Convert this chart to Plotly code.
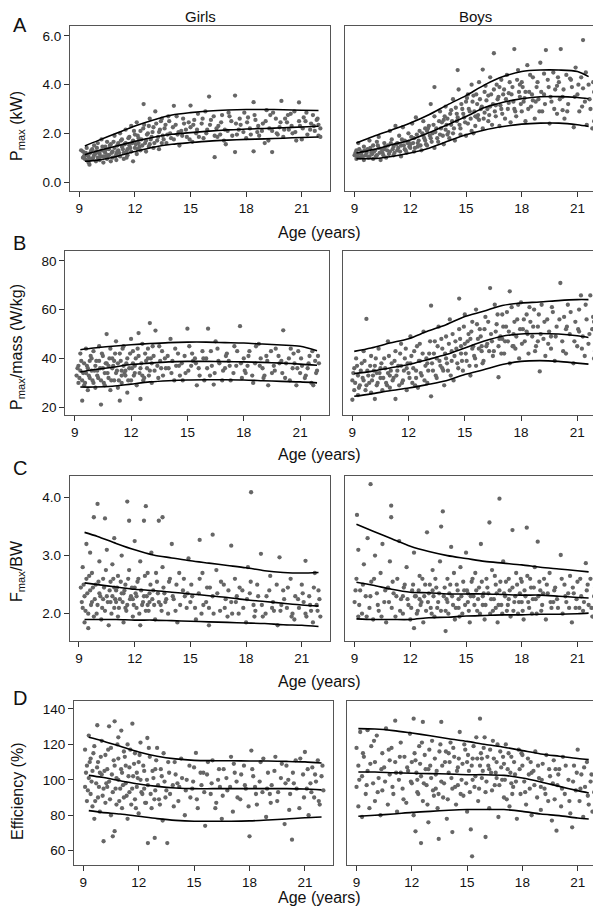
import plotly.graph_objects as go

# ---------------- data ----------------
x_ticks = [9, 12, 15, 18, 21]
girls_curve_age = [9.3, 10, 11, 12, 13, 14, 15, 16, 17, 18, 19, 20, 21, 21.9]
boys_curve_age = [9.1, 10, 11, 12, 13, 14, 15, 16, 17, 18, 19, 20, 21, 21.6]

# Pmax (kW)
girls_pmax_hi = [1.48, 1.7, 2.0, 2.3, 2.55, 2.75, 2.85, 2.92, 2.96, 2.98, 2.98, 2.97, 2.95, 2.94]
girls_pmax_md = [1.12, 1.28, 1.48, 1.67, 1.84, 1.96, 2.03, 2.09, 2.14, 2.18, 2.2, 2.23, 2.26, 2.29]
girls_pmax_lo = [0.85, 0.9, 1.05, 1.25, 1.43, 1.55, 1.62, 1.68, 1.72, 1.75, 1.77, 1.8, 1.83, 1.85]
boys_pmax_hi = [1.6, 1.87, 2.14, 2.42, 2.76, 3.17, 3.55, 3.99, 4.33, 4.54, 4.6, 4.6, 4.54, 4.33]
boys_pmax_md = [1.19, 1.33, 1.53, 1.73, 2.02, 2.35, 2.69, 3.06, 3.28, 3.42, 3.5, 3.51, 3.47, 3.42]
boys_pmax_lo = [0.96, 0.96, 1.05, 1.19, 1.39, 1.67, 1.94, 2.14, 2.28, 2.38, 2.42, 2.42, 2.35, 2.28]

# Pmax/mass (W/kg)
girls_pm_hi = [43.6, 44.3, 45.0, 45.6, 46.1, 46.5, 46.7, 46.7, 46.5, 46.3, 45.9, 45.5, 45.0, 43.2]
girls_pm_md = [34.5, 35.4, 36.4, 37.5, 38.1, 38.6, 38.8, 38.8, 38.7, 38.6, 38.4, 38.1, 37.7, 37.2]
girls_pm_lo = [28.3, 28.3, 28.6, 29.5, 30.4, 30.9, 31.2, 31.3, 31.3, 31.2, 30.9, 30.6, 30.4, 30.0]
boys_pm_hi = [42.9, 44.3, 46.3, 48.1, 51.1, 53.8, 57.2, 59.3, 61.7, 62.7, 63.1, 63.7, 64.1, 64.1]
boys_pm_md = [33.8, 34.7, 36.1, 37.5, 39.5, 41.6, 44.3, 47.0, 49.1, 50.0, 50.2, 50.0, 49.3, 48.6]
boys_pm_lo = [24.5, 25.5, 26.8, 27.9, 29.3, 30.9, 33.4, 35.4, 37.5, 38.8, 39.1, 38.8, 38.1, 37.7]

# Fmax/BW
girls_f_hi = [3.4, 3.33, 3.21, 3.1, 3.01, 2.96, 2.91, 2.87, 2.83, 2.79, 2.74, 2.71, 2.7, 2.71]
girls_f_md = [2.53, 2.5, 2.46, 2.42, 2.4, 2.37, 2.34, 2.31, 2.28, 2.24, 2.21, 2.18, 2.15, 2.13]
girls_f_lo = [1.9, 1.9, 1.9, 1.89, 1.89, 1.88, 1.87, 1.86, 1.85, 1.84, 1.83, 1.81, 1.8, 1.78]
boys_f_hi = [3.54, 3.42, 3.29, 3.16, 3.07, 3.0, 2.95, 2.9, 2.87, 2.84, 2.8, 2.77, 2.74, 2.72]
boys_f_md = [2.54, 2.49, 2.42, 2.37, 2.36, 2.34, 2.34, 2.34, 2.33, 2.32, 2.32, 2.3, 2.28, 2.27]
boys_f_lo = [1.91, 1.9, 1.9, 1.9, 1.93, 1.94, 1.96, 1.97, 1.98, 1.98, 1.99, 1.99, 2.0, 2.01]

# Efficiency (%)
girls_e_hi = [124.0, 122.1, 118.9, 115.7, 113.3, 111.8, 111.0, 110.8, 110.8, 110.6, 110.6, 110.4, 110.1, 109.5]
girls_e_md = [102.5, 101.4, 99.5, 97.6, 96.3, 95.4, 95.0, 95.0, 95.0, 95.0, 95.0, 95.0, 94.8, 94.3]
girls_e_lo = [82.6, 81.6, 80.7, 79.4, 78.1, 77.1, 76.6, 76.6, 76.6, 76.8, 77.3, 77.9, 78.6, 79.0]
boys_e_hi = [128.9, 128.7, 127.8, 126.4, 124.9, 123.2, 121.7, 119.9, 118.4, 116.5, 114.6, 113.3, 112.0, 111.4]
boys_e_md = [104.4, 104.4, 104.0, 103.7, 103.5, 103.3, 102.9, 102.9, 102.5, 101.0, 98.8, 96.3, 93.9, 92.6]
boys_e_lo = [79.4, 80.0, 80.7, 81.6, 82.2, 82.8, 83.2, 83.2, 83.2, 82.2, 80.7, 79.8, 78.4, 77.9]

# individual observations (age, value)
girls_pmax_pts = [
 (9.1,1.3),(9.2,1.0),(9.2,1.25),(9.3,0.95),(9.3,1.15),(9.4,0.9),(9.4,1.4),(9.5,1.05),(9.5,0.8),(9.6,1.2),
 (9.55,0.71),(9.7,1.35),(9.7,0.95),(9.8,1.1),(9.8,1.5),(9.9,0.85),(9.9,1.25),(10.0,1.0),(10.0,1.6),(10.1,1.15),
 (10.1,0.9),(10.2,1.3),(10.2,1.75),(10.3,1.05),(10.3,0.8),(10.4,1.45),(10.4,1.2),(10.5,0.95),(10.5,1.65),(10.6,1.1),
 (10.6,1.35),(10.7,0.85),(10.7,1.55),(10.8,1.25),(10.8,1.0),(10.9,1.9),(10.9,1.4),(11.0,1.15),(11.0,0.9),(11.1,1.6),
 (11.1,1.3),(11.2,2.0),(11.2,1.05),(11.3,1.45),(11.3,1.75),(11.4,1.2),(11.4,0.95),(11.5,1.6),(11.5,2.15),(11.6,1.35),
 (11.6,1.1),(11.7,1.85),(11.7,1.5),(11.8,1.25),(11.8,2.3),(11.9,1.7),(11.9,0.85),(12.0,1.4),(12.0,1.95),(12.1,1.15),
 (12.1,2.45),(12.2,1.6),(12.2,1.8),(12.3,1.3),(12.3,2.1),(12.4,1.5),(12.47,3.2),(12.5,2.35),(12.6,1.7),(12.6,1.25),
 (12.7,2.0),(12.8,1.55),(12.8,2.6),(12.9,1.85),(13.0,1.4),(13.0,2.25),(13.1,2.9),(13.2,1.7),(13.3,2.05),(13.3,1.35),
 (13.4,2.5),(13.5,1.9),(13.6,2.2),(13.7,1.6),(13.8,2.7),(13.9,2.0),(14.1,3.13),(14.1,1.75),(14.2,2.35),(14.4,1.5),
 (14.5,2.1),(14.6,2.6),(14.8,1.85),(15.0,3.14),(15.0,2.25),(15.1,1.65),(15.3,2.0),(15.4,2.8),(15.6,2.4),(15.7,1.8),
 (15.9,2.15),(16.0,3.51),(16.1,2.55),(16.3,1.02),(16.3,1.9),(16.5,2.3),(16.7,2.75),(16.8,1.7),(17.0,2.1),(17.2,2.5),
 (17.4,3.55),(17.4,1.23),(17.5,1.95),(17.7,2.35),(17.9,2.85),(18.0,1.8),(18.2,2.2),(18.4,3.28),(18.4,1.26),(18.5,2.55),
 (18.7,1.9),(18.9,2.4),(19.1,2.95),(19.2,1.7),(19.4,1.23),(19.4,2.1),(19.6,2.6),(19.8,2.25),(19.9,3.33),(20.0,1.85),
 (20.2,2.45),(20.4,2.8),(20.5,2.0),(20.7,1.7),(20.85,3.27),(20.9,2.3),(21.1,2.65),(21.3,1.95),(21.5,2.4),(21.7,2.1),
 (21.8,2.55),(21.9,1.9),(22.0,2.2),(15.2,2.55),(15.8,2.9),(16.4,2.2),(16.9,1.55),(17.1,2.7),(17.6,2.15),(18.1,2.65),
 (18.6,2.05),(19.0,1.6),(19.3,2.75),(19.7,1.95),(20.1,2.6),(20.3,2.15),(20.6,2.9),(21.0,1.75),(21.2,2.5),(21.6,2.75),
 (21.9,2.35),(10.45,1.05),(11.05,1.25),(11.55,1.0),(12.15,1.35),(12.75,1.45),(13.45,1.6),(14.3,1.95),(14.9,2.45),(16.6,1.95)]
girls_pmax_pts_more = [
 (9.25,1.05),(9.35,1.2),(9.45,1.1),(9.55,0.95),(9.65,1.3),(9.75,1.0),(9.85,1.15),(9.95,1.4),(10.05,1.2),(10.15,1.05),
 (10.25,1.45),(10.35,1.25),(10.45,1.35),(10.55,1.1),(10.65,1.5),(10.75,1.2),(10.85,1.65),(10.95,1.05),(11.05,1.5),(11.15,1.2),
 (11.25,1.7),(11.35,1.35),(11.45,1.55),(11.55,1.25),(11.65,1.8),(11.75,1.4),(11.85,1.6),(11.95,2.1),(12.05,1.55),(12.15,1.9),
 (12.25,1.45),(12.35,1.75),(12.45,2.2),(12.55,1.6),(12.65,1.95),(12.75,2.3),(12.85,1.75),(12.95,2.05),(13.05,1.6),(13.15,2.4),
 (13.25,1.85),(13.35,2.15),(13.45,2.6),(13.55,1.75),(13.65,2.35),(13.75,1.95),(13.85,2.5),(13.95,1.8),(14.05,2.25),(14.25,2.7),
 (14.35,2.05),(14.55,1.9),(14.65,2.4),(14.75,2.15),(14.95,1.75),(15.15,2.35),(15.35,2.15),(15.45,1.85),(15.65,2.6),(15.85,2.0),
 (16.05,2.35),(16.25,2.7),(16.45,1.85),(16.65,2.45),(16.85,2.15),(17.05,2.85),(17.25,1.9),(17.45,2.4),(17.65,2.6),(17.85,2.05),
 (18.05,2.45),(18.25,1.95),(18.45,2.75),(18.65,2.3),(18.85,2.1),(19.05,2.5),(19.25,2.2),(19.45,2.85),(19.65,2.0),(19.85,2.45),
 (20.05,2.15),(20.25,2.75),(20.45,2.3),(20.65,2.05),(20.85,2.5),(21.05,2.2),(21.25,2.85),(21.45,2.15),(21.65,2.3),(21.85,2.6),
 (22.0,1.85)]

boys_pmax_pts = [
 (9.0,1.1),(9.1,1.3),(9.1,0.95),(9.2,1.6),(9.2,1.15),(9.3,1.0),(9.4,1.25),(9.5,1.45),(9.5,0.9),(9.6,1.1),
 (9.7,1.35),(9.8,1.05),(9.8,1.7),(9.9,1.2),(10.0,0.95),(10.0,1.5),(10.1,1.3),(10.2,1.1),(10.3,1.85),(10.3,1.4),
 (10.4,0.9),(10.5,1.2),(10.6,1.6),(10.6,1.35),(10.7,1.0),(10.8,1.5),(10.9,2.1),(10.9,1.25),(11.0,1.75),(11.1,1.1),
 (11.1,1.45),(11.2,2.3),(11.3,1.6),(11.3,1.3),(11.4,1.9),(11.5,1.05),(11.5,1.5),(11.6,2.25),(11.7,1.7),(11.7,1.35),
 (11.8,1.2),(11.9,2.0),(12.0,1.55),(12.0,1.4),(12.1,2.4),(12.2,1.25),(12.2,1.8),(12.3,2.65),(12.4,1.6),(12.4,1.45),
 (12.5,2.1),(12.6,1.3),(12.7,1.9),(12.7,2.5),(12.8,1.7),(12.9,1.5),(13.0,2.3),(13.1,3.2),(13.1,1.8),(13.2,2.0),
 (13.3,1.4),(13.3,2.7),(13.4,2.2),(13.5,1.65),(13.6,2.9),(13.6,1.95),(13.7,2.45),(13.8,1.55),(13.9,3.1),(13.9,2.15),
 (14.0,2.6),(14.1,1.8),(14.2,2.35),(14.3,3.4),(14.3,2.0),(14.4,1.7),(14.5,2.8),(14.5,2.5),(14.6,3.8),(14.7,2.2),
 (14.7,1.95),(14.8,3.0),(14.9,2.65),(15.0,1.9),(15.0,3.3),(15.1,2.4),(15.2,2.9),(15.3,4.0),(15.3,2.1),(15.4,3.55),
 (15.5,2.7),(15.5,2.3),(15.6,3.2),(15.7,4.1),(15.7,2.55),(15.8,3.0),(15.9,2.2),(16.0,3.7),(16.0,2.85),(16.1,3.35),
 (16.2,2.5),(16.3,4.3),(16.3,3.1),(16.4,2.35),(16.5,5.29),(16.5,3.8),(16.6,2.7),(16.7,3.4),(16.8,2.3),(16.9,4.2),
 (16.9,3.0),(17.0,3.6),(17.1,2.6),(17.2,4.4),(17.3,3.25),(17.4,2.45),(17.5,3.9),(17.6,5.46),(17.6,3.0),(17.7,2.7),
 (17.8,4.6),(17.9,3.5),(18.0,4.1),(18.0,2.9),(18.1,3.3),(18.2,2.5),(18.3,4.8),(18.4,3.7),(18.5,3.1),(18.6,4.3),
 (18.7,2.6),(18.8,3.9),(18.9,3.4),(19.0,4.9),(19.1,2.9),(19.2,3.6),(19.3,5.42),(19.4,4.2),(19.5,2.4),(19.6,3.3),
 (19.7,4.5),(19.8,3.8),(19.9,2.8),(20.0,4.1),(20.1,5.46),(20.2,3.5),(20.3,2.6),(20.4,4.4),(20.5,3.2),(20.7,3.9),
 (20.8,2.25),(20.9,4.7),(21.0,3.6),(21.1,2.9),(21.2,4.3),(21.3,5.83),(21.4,3.3),(21.5,2.35),(21.6,4.0),(21.7,3.0),
 (21.8,2.2),(21.9,3.7),(22.0,3.2),(14.55,4.6),(15.9,4.62),(13.3,3.9),(22.0,3.4),(21.9,2.5),(12.9,2.1),(13.8,2.55),
 (14.2,2.95),(15.1,3.6),(15.6,2.65),(16.2,3.55),(16.8,3.9),(17.3,3.65),(17.9,4.0),(18.6,3.35),(19.2,4.45),(19.9,3.95),
 (20.6,4.25),(21.3,3.85),(10.2,1.65),(11.9,1.65),(12.8,2.2),(14.0,1.95),(15.4,2.0),(16.6,3.15),(18.2,3.7),(20.2,2.95)]
boys_pmax_pts_more = [
 (9.05,1.2),(9.15,1.05),(9.25,1.35),(9.35,1.15),(9.45,1.05),(9.55,1.3),(9.65,1.2),(9.75,1.0),(9.85,1.4),(9.95,1.15),
 (10.05,1.25),(10.15,1.05),(10.25,1.5),(10.35,1.2),(10.45,1.35),(10.55,1.1),(10.65,1.45),(10.75,1.3),(10.85,1.15),(10.95,1.6),
 (11.05,1.35),(11.15,1.2),(11.25,1.55),(11.35,1.4),(11.45,1.25),(11.55,1.75),(11.65,1.5),(11.75,1.3),(11.85,1.6),(11.95,1.45),
 (12.05,1.85),(12.15,1.6),(12.25,1.4),(12.35,1.95),(12.45,1.7),(12.55,1.5),(12.65,2.0),(12.75,1.8),(12.85,1.55),(12.95,2.2),
 (13.05,1.9),(13.15,1.65),(13.25,2.35),(13.35,2.05),(13.45,1.8),(13.55,2.5),(13.65,2.2),(13.75,1.9),(13.85,2.7),(13.95,2.35),
 (14.05,2.05),(14.15,2.8),(14.25,2.5),(14.35,2.2),(14.45,3.05),(14.55,2.65),(14.65,2.35),(14.75,3.2),(14.85,2.8),(14.95,2.45),
 (15.05,3.45),(15.15,3.0),(15.25,2.6),(15.35,3.3),(15.45,2.9),(15.55,3.6),(15.65,2.75),(15.75,3.4),(15.85,3.1),(15.95,2.6),
 (16.05,3.95),(16.15,3.0),(16.25,2.75),(16.35,3.6),(16.45,3.2),(16.55,2.9),(16.65,4.0),(16.75,3.5),(16.85,3.15),(16.95,2.8),
 (17.05,3.8),(17.15,3.4),(17.25,3.0),(17.35,4.1),(17.45,3.6),(17.55,3.3),(17.65,2.9),(17.75,4.2),(17.85,3.7),(17.95,3.2),
 (18.05,3.9),(18.15,3.45),(18.35,3.0),(18.45,4.4),(18.55,3.6),(18.75,3.3),(18.85,4.1),(18.95,2.9),(19.05,3.7),(19.25,3.2),
 (19.45,3.9),(19.55,3.5),(19.75,3.0),(19.95,4.3),(20.05,3.4),(20.25,3.8),(20.45,2.9),(20.65,4.2),(20.85,3.5),(21.05,4.0),
 (21.25,3.1),(21.45,4.5),(21.65,3.4),(21.85,4.1),(21.95,2.8)]

girls_pm_pts = [
 (9.1,33),(9.2,30),(9.2,37),(9.3,42),(9.3,35),(9.4,22.7),(9.4,31),(9.5,38),(9.5,29),(9.6,34),
 (9.6,44),(9.7,36),(9.7,27),(9.8,32),(9.9,40),(9.9,35),(10.0,30),(10.0,43),(10.1,37),(10.1,28),
 (10.2,33),(10.3,39),(10.3,45),(10.4,21.1),(10.4,31),(10.5,36),(10.5,41),(10.6,29),(10.6,34),(10.7,50),
 (10.7,38),(10.8,32),(10.9,44),(10.9,27),(11.0,36),(11.0,40),(11.1,31),(11.2,47),(11.2,34),(11.3,28),
 (11.3,38),(11.4,22.7),(11.4,42),(11.5,35),(11.5,30),(11.6,45),(11.6,37),(11.7,33),(11.8,40),(11.8,26),
 (11.9,36),(12.0,48),(12.0,31),(12.1,43),(12.1,38),(12.2,34),(12.3,29),(12.4,50.4),(12.4,41),(12.5,23.4),
 (12.5,36),(12.6,46),(12.7,32),(12.8,39),(12.9,44),(13.0,54.5),(13.0,35),(13.1,30),(13.2,41),(13.3,51.4),
 (13.4,37),(13.5,45),(13.7,33),(13.8,40),(14.0,36),(14.1,48),(14.3,31),(14.5,42),(14.7,38),(14.9,34),
 (15.0,52.2),(15.1,45),(15.3,39),(15.5,29),(15.6,36),(15.8,43),(16.0,40),(16.1,52.2),(16.2,33),(16.4,29.3),
 (16.5,47),(16.7,38),(16.9,35),(17.1,42),(17.3,31),(17.5,45),(17.6,37),(17.8,53.2),(18.0,40),(18.1,34),
 (18.3,43),(18.5,30),(18.6,38),(18.8,46),(19.0,36),(19.2,41),(19.3,29),(19.5,34),(19.7,44),(19.9,38),
 (20.1,51.5),(20.2,32),(20.4,40),(20.6,36),(20.8,29),(20.9,43),(21.1,37),(21.3,33),(21.5,41),(21.6,30),
 (21.8,39),(21.9,35),(22.0,38),(14.2,39),(14.6,33),(15.2,37),(15.9,31),(16.6,44),(17.0,36),(17.9,32),
 (18.9,40),(19.6,37),(20.5,44),(21.0,34),(21.7,29),(9.8,39),(10.2,35),(10.8,37),(11.1,39),(11.7,35),
 (12.2,37),(12.6,33),(13.1,38),(13.6,36),(14.4,37),(15.4,40),(16.3,37),(17.2,39),(18.2,37),(19.1,33),
 (20.0,39),(20.7,38),(21.4,36),(12.9,40),(11.5,33)]
girls_pm_pts_more = [
 (9.15,36),(9.25,32),(9.35,39),(9.45,34),(9.55,30),(9.65,37),(9.75,33),(9.85,41),(9.95,31),(10.05,35),
 (10.15,39),(10.25,32),(10.35,36),(10.45,42),(10.55,30),(10.65,38),(10.75,34),(10.85,40),(10.95,31),(11.05,37),
 (11.15,42),(11.25,35),(11.35,31),(11.45,39),(11.55,44),(11.65,34),(11.75,38),(11.85,31),(11.95,42),(12.05,36),
 (12.15,33),(12.25,40),(12.35,44),(12.45,34),(12.55,38),(12.65,31),(12.75,42),(12.85,36),(12.95,33),(13.05,40),
 (13.15,45),(13.25,35),(13.45,32),(13.55,39),(13.65,43),(13.85,36),(13.95,41),(14.15,34),(14.35,44),(14.55,37),
 (14.75,31),(14.85,41),(15.05,35),(15.25,42),(15.45,38),(15.65,33),(15.85,40),(16.05,36),(16.25,43),(16.45,34),
 (16.65,39),(16.85,31),(17.05,41),(17.25,37),(17.45,34),(17.65,43),(17.85,38),(18.05,35),(18.25,41),(18.45,33),
 (18.65,45),(18.85,37),(19.05,32),(19.25,39),(19.45,43),(19.65,35),(19.85,41),(20.05,34),(20.25,38),(20.45,31),
 (20.65,42),(20.85,36),(21.05,40),(21.25,32),(21.45,38),(21.65,43),(21.85,34),(21.95,41)]

boys_pm_pts = [
 (9.0,23.1),(9.0,31),(9.1,36),(9.1,27),(9.2,40),(9.3,33),(9.3,25),(9.4,29),(9.5,38),(9.6,31),
 (9.6,43),(9.7,27),(9.75,56.2),(9.8,35),(9.9,30),(10.0,41),(10.0,26),(10.1,33),(10.2,23.4),(10.2,37),
 (10.3,29),(10.4,44),(10.5,32),(10.5,36),(10.6,27),(10.7,40),(10.8,30),(10.9,47),(10.9,34),(11.0,28),
 (11.1,38),(11.2,32),(11.3,23.4),(11.3,43),(11.4,35),(11.5,29),(11.6,46),(11.6,37),(11.7,31),(11.8,40),
 (11.9,27),(12.0,34),(12.1,49),(12.1,38),(12.2,30),(12.3,43),(12.4,35),(12.5,28),(12.6,46),(12.6,39),
 (12.7,33),(12.8,51),(12.9,37),(13.0,30),(13.1,42),(13.2,61.6),(13.2,24.5),(13.3,35),(13.4,47),(13.5,40),
 (13.5,32),(13.6,53),(13.7,37),(13.8,44),(13.9,29),(14.0,49),(14.0,40),(14.1,35),(14.2,56),(14.3,43),
 (14.4,31),(14.5,47),(14.6,38),(14.7,64.5),(14.7,52),(14.8,42),(14.9,35),(15.0,58),(15.0,46),(15.1,39),
 (15.2,50),(15.3,33),(15.4,55),(15.4,44),(15.5,41),(15.6,60),(15.6,37),(15.7,48),(15.8,52),(15.9,43),
 (16.0,39),(16.1,57),(16.2,46),(16.35,68.8),(16.4,50),(16.5,41),(16.6,62),(16.7,54),(16.8,32.3),(16.8,45),
 (16.9,49),(17.0,58),(17.1,42),(17.2,53),(17.3,47),(17.4,67.5),(17.4,38),(17.5,61),(17.6,50),(17.7,44),
 (17.8,56),(17.9,40),(18.0,63),(18.1,52),(18.2,47),(18.3,58),(18.4,42),(18.5,55),(18.6,49),(18.7,60),
 (18.8,45),(18.9,53),(19.0,34.7),(19.1,62),(19.2,48),(19.3,41),(19.4,56),(19.5,51),(19.6,44),(19.7,59),
 (19.8,39),(19.9,53),(20.1,70.9),(20.2,47),(20.3,57),(20.4,42),(20.5,62),(20.6,50),(20.8,38),(20.9,55),
 (21.0,45),(21.1,60),(21.2,65.8),(21.3,49),(21.4,41),(21.5,56),(21.6,46),(21.7,65.8),(21.8,52),(21.9,40),
 (22.0,48),(10.3,34),(11.0,33),(11.9,36),(12.4,32),(13.0,38),(13.8,36),(14.3,39),(14.8,45),(15.3,48),
 (15.9,45),(16.3,43),(17.0,48),(17.6,45),(18.3,51),(18.9,47),(19.6,49),(20.4,52),(21.1,51),(21.9,55)]
boys_pm_pts_more = [
 (9.05,34),(9.15,30),(9.25,37),(9.35,28),(9.45,35),(9.55,32),(9.65,39),(9.75,29),(9.85,33),(9.95,37),
 (10.05,31),(10.15,35),(10.25,40),(10.35,30),(10.45,34),(10.55,38),(10.65,32),(10.75,36),(10.85,29),(10.95,41),
 (11.05,35),(11.15,31),(11.25,39),(11.35,33),(11.45,37),(11.55,42),(11.65,30),(11.75,35),(11.85,44),(11.95,38),
 (12.05,32),(12.15,41),(12.25,36),(12.35,29),(12.45,45),(12.55,39),(12.65,34),(12.75,42),(12.85,31),(12.95,40),
 (13.05,35),(13.15,47),(13.25,38),(13.35,42),(13.45,33),(13.55,45),(13.65,39),(13.75,48),(13.85,35),(13.95,42),
 (14.05,38),(14.15,46),(14.25,33),(14.35,50),(14.45,41),(14.55,44),(14.65,36),(14.75,48),(14.85,39),(14.95,53),
 (15.05,42),(15.15,47),(15.25,37),(15.35,51),(15.45,45),(15.55,40),(15.65,54),(15.75,44),(15.85,49),(15.95,38),
 (16.05,52),(16.15,45),(16.25,55),(16.45,47),(16.55,43),(16.65,51),(16.75,58),(16.85,48),(16.95,42),(17.05,53),
 (17.15,47),(17.25,59),(17.35,51),(17.55,45),(17.65,55),(17.75,49),(17.85,62),(17.95,52),(18.05,46),(18.15,56),
 (18.35,50),(18.45,61),(18.65,53),(18.75,43),(18.95,58),(19.05,50),(19.25,55),(19.45,46),(19.65,61),(19.85,49),
 (20.05,56),(20.25,43),(20.45,53),(20.65,59),(20.85,47),(21.05,52),(21.25,44),(21.45,62),(21.65,50),(21.85,57),
 (21.95,43)]

girls_f_pts = [
 (9.1,2.45),(9.2,2.1),(9.2,2.8),(9.3,1.85),(9.3,2.3),(9.4,3.2),(9.4,2.6),(9.5,2.0),(9.5,1.75),(9.6,2.4),
 (9.6,3.05),(9.7,2.2),(9.7,2.7),(9.8,3.66),(9.8,1.95),(9.9,2.5),(10.0,3.89),(10.0,2.15),(10.1,2.9),(10.1,2.35),
 (10.2,1.9),(10.3,2.6),(10.4,3.64),(10.4,2.05),(10.5,3.1),(10.5,2.3),(10.6,1.8),(10.7,2.55),(10.7,2.2),(10.8,2.85),
 (10.9,3.3),(10.9,2.1),(11.0,2.4),(11.1,1.95),(11.1,2.65),(11.2,2.25),(11.3,3.0),(11.3,2.35),(11.4,1.85),(11.5,2.5),
 (11.6,3.93),(11.6,2.15),(11.7,3.6),(11.7,2.75),(11.8,2.3),(11.9,1.95),(12.0,2.45),(12.0,3.25),(12.1,2.1),(12.2,2.6),
 (12.3,2.9),(12.3,1.8),(12.5,3.6),(12.5,2.3),(12.6,3.85),(12.6,2.05),(12.7,2.7),(12.8,2.2),(12.9,3.05),(13.0,2.4),
 (13.1,1.9),(13.2,2.55),(13.3,3.6),(13.4,2.15),(13.5,3.66),(13.5,2.8),(13.6,2.35),(13.8,2.0),(13.9,2.6),(14.0,3.2),
 (14.1,2.25),(14.3,1.85),(14.4,2.7),(14.6,2.4),(14.8,2.1),(14.9,2.95),(15.1,2.3),(15.3,1.9),(15.5,3.27),(15.5,2.6),
 (15.7,2.15),(15.9,2.45),(16.0,1.8),(16.2,3.36),(16.2,2.3),(16.4,2.75),(16.6,2.05),(16.8,2.5),(17.0,1.95),(17.2,3.17),
 (17.2,2.2),(17.4,2.6),(17.6,2.0),(17.8,2.4),(18.0,1.85),(18.1,2.8),(18.27,4.09),(18.4,2.15),(18.6,2.5),(18.8,3.03),
 (18.9,1.95),(19.1,2.3),(19.3,2.65),(19.5,2.05),(19.7,1.8),(19.8,2.97),(20.0,2.4),(20.2,2.1),(20.4,2.6),(20.6,1.9),
 (20.8,2.25),(21.0,2.5),(21.2,2.91),(21.2,2.0),(21.4,2.3),(21.6,1.85),(21.7,2.7),(21.8,2.15),(21.9,2.4),(22.0,1.95),
 (10.8,2.3),(11.0,2.2),(11.4,2.35),(11.9,2.25),(12.4,2.15),(12.8,2.35),(13.3,2.2),(14.2,2.05),(15.0,2.2),(16.0,2.1),
 (17.5,2.3),(18.5,2.05),(19.9,2.15),(21.1,2.2),(10.3,2.25),(10.9,2.45),(11.5,2.1),(12.1,2.3),(12.7,2.15),(13.7,2.25),
 (14.7,2.3),(15.6,2.0),(16.9,2.25),(18.2,2.35),(19.4,2.1),(20.5,2.0),(21.5,2.05)]
girls_f_pts_more = [
 (9.15,2.2),(9.25,2.5),(9.35,2.05),(9.45,2.35),(9.55,2.65),(9.65,2.15),(9.75,2.45),(9.85,2.25),(9.95,2.0),(10.05,2.55),
 (10.15,2.3),(10.25,2.1),(10.35,2.45),(10.45,2.75),(10.55,2.2),(10.65,2.4),(10.75,2.0),(10.85,2.6),(10.95,2.25),(11.05,2.45),
 (11.15,2.1),(11.25,2.55),(11.35,2.2),(11.45,2.4),(11.55,2.05),(11.65,2.6),(11.75,2.25),(11.85,2.45),(11.95,2.15),(12.05,2.35),
 (12.15,2.55),(12.25,2.0),(12.35,2.4),(12.45,2.2),(12.55,2.65),(12.65,2.3),(12.75,2.05),(12.85,2.5),(12.95,2.25),(13.05,2.15),
 (13.15,2.7),(13.25,2.35),(13.45,2.05),(13.55,2.45),(13.65,2.2),(13.85,2.55),(14.05,2.3),(14.25,2.5),(14.45,2.15),(14.65,2.6),
 (14.85,2.35),(15.05,2.5),(15.25,2.1),(15.45,2.35),(15.65,2.7),(15.85,2.2),(16.05,2.45),(16.25,2.0),(16.45,2.35),(16.65,2.55),
 (16.85,2.1),(17.05,2.4),(17.25,2.0),(17.45,2.2),(17.65,2.45),(17.85,2.1),(18.05,2.25),(18.25,2.55),(18.45,1.95),(18.65,2.3),
 (18.85,2.15),(19.05,2.0),(19.25,2.4),(19.45,2.2),(19.65,2.5),(19.85,2.05),(20.05,2.25),(20.25,2.45),(20.45,1.95),(20.65,2.3),
 (20.85,2.1),(21.05,2.35),(21.25,1.95),(21.45,2.15),(21.65,2.45),(21.85,2.05),(21.95,2.25)]

boys_f_pts = [
 (9.0,2.2),(9.1,2.6),(9.13,3.7),(9.2,1.95),(9.2,3.1),(9.3,2.4),(9.4,2.0),(9.5,2.85),(9.6,2.3),(9.7,3.3),
 (9.8,2.1),(9.86,4.23),(9.9,2.55),(10.0,1.9),(10.1,3.0),(10.2,2.35),(10.3,2.05),(10.4,2.7),(10.5,3.2),(10.6,2.2),
 (10.7,1.85),(10.8,2.45),(10.9,2.9),(10.97,3.86),(10.97,3.66),(11.0,2.1),(11.1,2.35),(11.2,1.95),(11.3,2.6),(11.4,3.25),
 (11.5,2.25),(11.6,2.0),(11.7,2.5),(11.8,2.8),(11.9,2.15),(12.0,1.9),(12.1,2.4),(12.2,1.75),(12.2,3.05),(12.3,2.3),
 (12.4,2.05),(12.5,2.65),(12.6,2.2),(12.7,1.85),(12.8,2.5),(12.9,3.4),(13.0,2.35),(13.1,2.1),(13.2,2.75),(13.3,1.95),
 (13.4,2.45),(13.5,2.2),(13.6,2.9),(13.66,3.5),(13.75,3.76),(13.8,2.3),(13.9,1.7),(13.9,2.05),(14.0,2.6),(14.1,2.35),
 (14.2,3.15),(14.3,2.15),(14.4,1.9),(14.5,2.5),(14.6,2.25),(14.7,2.8),(14.8,2.0),(14.9,2.4),(15.0,3.05),(15.1,2.2),
 (15.2,1.85),(15.3,2.55),(15.4,2.3),(15.5,2.7),(15.6,2.05),(15.7,2.45),(15.8,3.2),(15.9,2.15),(16.0,1.9),(16.1,2.6),
 (16.2,2.35),(16.26,3.57),(16.3,2.0),(16.4,2.75),(16.5,2.25),(16.6,2.5),(16.7,1.85),(16.8,3.98),(16.8,2.4),(16.9,2.15),
 (17.0,2.9),(17.1,2.3),(17.2,2.05),(17.3,2.6),(17.4,1.95),(17.5,3.44),(17.5,2.45),(17.6,2.2),(17.7,2.7),(17.8,2.0),
 (17.9,2.35),(18.0,2.55),(18.1,1.9),(18.2,2.3),(18.27,3.48),(18.3,2.65),(18.4,2.1),(18.5,2.45),(18.6,2.25),(18.7,2.8),
 (18.8,2.0),(18.86,3.24),(19.0,2.4),(19.1,2.15),(19.2,2.6),(19.3,1.9),(19.4,2.35),(19.5,2.7),(19.6,2.1),(19.8,2.45),
 (19.9,2.25),(20.1,3.01),(20.2,2.0),(20.3,2.5),(20.4,2.2),(20.6,2.65),(20.7,1.85),(20.8,2.35),(20.9,2.1),(21.0,2.55),
 (21.2,2.3),(21.3,2.05),(21.45,2.87),(21.5,2.4),(21.6,2.15),(21.7,2.6),(21.8,1.95),(21.9,2.3),(22.0,2.2),
 (11.6,2.3),(12.5,2.25),(13.2,2.4),(14.0,2.2),(14.6,2.1),(15.1,2.35),(15.9,2.3),(16.6,2.1),(17.3,2.25),(18.0,2.2),
 (18.9,2.3),(19.7,2.2),(20.5,2.35),(21.1,2.1)]
boys_f_pts_more = [
 (9.05,2.4),(9.25,2.15),(9.45,2.5),(9.65,1.95),(9.85,2.3),(10.05,2.6),(10.25,2.15),(10.45,1.95),(10.65,2.4),(10.85,2.2),
 (11.05,2.55),(11.25,2.3),(11.45,2.05),(11.65,2.45),(11.85,2.25),(12.05,2.1),(12.15,2.5),(12.25,2.3),(12.35,2.0),(12.45,2.4),
 (12.55,2.15),(12.65,2.6),(12.75,2.3),(12.85,2.05),(12.95,2.2),(13.05,2.5),(13.15,2.0),(13.25,2.3),(13.35,2.6),(13.45,2.1),
 (13.55,2.35),(13.65,2.05),(13.85,2.45),(13.95,2.25),(14.05,2.0),(14.15,2.5),(14.25,2.3),(14.35,2.7),(14.45,2.1),(14.55,2.4),
 (14.65,1.95),(14.75,2.3),(14.85,2.55),(14.95,2.15),(15.05,2.4),(15.15,2.05),(15.25,2.3),(15.35,2.6),(15.45,2.15),(15.55,2.4),
 (15.65,2.25),(15.75,2.0),(15.85,2.55),(15.95,2.35),(16.05,2.15),(16.15,2.45),(16.35,2.25),(16.45,2.05),(16.55,2.65),(16.65,2.35),
 (16.75,2.15),(16.85,2.55),(16.95,2.0),(17.05,2.35),(17.15,2.55),(17.25,2.15),(17.35,2.4),(17.55,2.05),(17.65,2.3),(17.75,2.5),
 (17.85,2.2),(17.95,2.6),(18.05,2.05),(18.15,2.4),(18.35,2.2),(18.45,2.6),(18.55,2.0),(18.65,2.45),(18.75,2.25),(18.95,2.55),
 (19.05,2.05),(19.15,2.35),(19.35,2.5),(19.55,2.2),(19.75,2.4),(19.95,2.1),(20.15,2.6),(20.35,2.3),(20.55,2.1),(20.75,2.45),
 (20.95,2.25),(21.15,2.6),(21.35,2.2),(21.55,2.5),(21.75,2.1),(21.95,2.45)]

girls_e_pts = [
 (9.1,117),(9.1,96),(9.2,108),(9.2,88),(9.3,125),(9.3,101),(9.4,92),(9.4,112),(9.5,85),(9.5,105),
 (9.6,78),(9.6,119),(9.7,98),(9.76,130.8),(9.8,90),(9.8,110),(9.9,82),(10.0,103),(10.0,122),(10.1,65.3),
 (10.1,95),(10.2,114),(10.2,87),(10.3,106),(10.4,130.2),(10.4,99),(10.5,80),(10.5,118),(10.6,68.1),(10.6,93),
 (10.7,133),(10.7,71),(10.7,108),(10.8,101),(10.8,86),(10.9,124),(10.9,112),(11.0,95),(11.06,127.8),(11.1,104),
 (11.1,84),(11.2,116),(11.2,90),(11.3,98),(11.4,120),(11.4,78),(11.5,107),(11.5,93),(11.6,86),(11.66,131.7),
 (11.7,102),(11.8,115),(11.8,89),(11.9,96),(12.0,110),(12.0,81),(12.1,121),(12.1,100),(12.2,92),(12.3,105),
 (12.4,87),(12.47,123.6),(12.5,64.3),(12.5,97),(12.6,113),(12.7,84),(12.8,101),(12.87,67.2),(12.9,94),(13.0,118),
 (13.1,89),(13.2,106),(13.3,77),(13.4,99),(13.55,64.3),(13.6,110),(13.7,92),(13.9,85),(14.0,103),(14.2,96),
 (14.3,112),(14.5,80),(14.6,100),(14.8,90),(15.0,107),(15.1,115.2),(15.2,84),(15.4,97),(15.6,74),(15.7,103),
 (15.9,92),(16.0,111),(16.2,87),(16.3,100),(16.5,78),(16.6,106),(16.8,94),(17.0,113),(17.1,82),(17.3,99),
 (17.5,89),(17.7,108),(17.8,95),(18.0,68.1),(18.1,116.5),(18.2,102),(18.4,86),(18.6,110),(18.7,93),(18.9,79),
 (19.0,104),(19.2,97),(19.4,113),(19.5,88),(19.7,101),(19.9,75),(20.0,108),(20.2,92),(20.3,66.2),(20.4,98),
 (20.5,111),(20.7,84),(20.9,103),(21.0,115.7),(21.1,95),(21.2,80),(21.4,107),(21.5,90),(21.6,99),(21.7,111),
 (21.8,86),(21.9,102),(22.0,94),(9.9,104),(10.3,96),(10.9,100),(11.3,108),(11.9,104),(12.3,95),(12.9,106),
 (13.5,94),(14.1,98),(14.9,95),(15.5,104),(16.4,96),(17.2,104),(18.3,96),(19.1,92),(20.1,100),(21.3,98)]
girls_e_pts_more = [
 (9.15,104),(9.25,94),(9.35,110),(9.45,99),(9.55,115),(9.65,88),(9.75,107),(9.85,96),(9.95,113),(10.05,91),
 (10.15,105),(10.25,98),(10.35,117),(10.45,89),(10.55,103),(10.65,111),(10.75,95),(10.85,120),(10.95,88),(11.05,106),
 (11.15,97),(11.25,113),(11.35,91),(11.45,102),(11.55,117),(11.65,95),(11.75,109),(11.85,84),(11.95,101),(12.05,114),
 (12.15,93),(12.25,108),(12.35,87),(12.45,100),(12.55,118),(12.65,92),(12.75,105),(12.85,89),(12.95,111),(13.05,97),
 (13.15,86),(13.25,102),(13.35,115),(13.45,90),(13.65,104),(13.85,97),(13.95,110),(14.15,88),(14.35,101),(14.55,94),
 (14.75,108),(14.95,99),(15.15,89),(15.35,104),(15.55,93),(15.75,110),(15.95,98),(16.15,84),(16.35,106),(16.55,91),
 (16.75,101),(16.95,96),(17.15,109),(17.35,90),(17.55,103),(17.75,97),(17.95,85),(18.15,106),(18.35,92),(18.55,99),
 (18.75,112),(18.95,95),(19.15,87),(19.35,105),(19.55,93),(19.75,109),(19.95,98),(20.15,83),(20.35,104),(20.55,95),
 (20.75,112),(20.95,90),(21.15,106),(21.35,93),(21.55,103),(21.75,88),(21.95,108)]

boys_e_pts = [
 (9.0,118),(9.0,96),(9.1,85),(9.1,108),(9.2,127),(9.3,102),(9.3,79),(9.4,113),(9.5,92),(9.6,128),
 (9.6,105),(9.7,84),(9.8,119),(9.9,98),(10.0,110),(10.0,88),(10.1,125),(10.2,101),(10.3,80),(10.4,115),
 (10.4,94),(10.5,107),(10.6,129),(10.7,86),(10.8,103),(10.9,118),(11.0,92),(11.1,133.4),(11.1,110),(11.2,82),
 (11.3,100),(11.4,121),(11.5,95),(11.6,113),(11.7,87),(11.8,105),(11.9,126),(12.0,98),(12.1,134.5),(12.1,80),
 (12.2,70.9),(12.2,111),(12.3,93),(12.4,119),(12.5,64.3),(12.5,102),(12.6,132.7),(12.6,88),(12.7,114),(12.8,97),
 (12.9,76),(13.0,108),(13.1,122),(13.2,91),(13.3,103),(13.4,84),(13.46,66.6),(13.5,116),(13.6,132.7),(13.6,99),
 (13.7,90),(13.8,110),(13.9,78),(14.0,104),(14.1,121),(14.2,70.5),(14.2,95),(14.3,113),(14.4,86),(14.5,107),
 (14.6,127),(14.7,100),(14.8,91),(14.9,117),(15.0,82),(15.1,105),(15.2,72),(15.27,56.8),(15.3,112),(15.4,96),
 (15.5,124),(15.6,88),(15.7,134.5),(15.7,108),(15.8,101),(15.9,118),(16.0,67.7),(16.0,93),(16.1,113),(16.2,84),
 (16.3,104),(16.4,122),(16.5,97),(16.6,110),(16.7,79),(16.8,116),(16.9,100),(17.0,90),(17.1,120),(17.2,106),
 (17.3,85),(17.4,113),(17.5,96),(17.6,103),(17.7,78),(17.8,117),(17.9,92),(18.0,108),(18.1,99),(18.2,86),
 (18.3,112),(18.4,95),(18.5,80),(18.6,105),(18.7,116),(18.8,90),(18.9,101),(19.0,83),(19.1,109),(19.2,95),
 (19.3,114),(19.4,88),(19.5,102),(19.6,77),(19.7,111),(19.85,71.3),(19.9,97),(20.0,106),(20.1,85),(20.2,113),
 (20.3,92),(20.5,100),(20.6,81),(20.7,73.2),(20.8,108),(20.9,94),(21.0,117),(21.1,88),(21.2,103),(21.3,79),
 (21.4,96),(21.5,110),(21.6,86),(21.7,99),(21.8,82),(21.9,93),(22.0,90),(12.0,110),(12.9,106),(13.3,95),
 (14.0,115),(14.5,97),(15.0,110),(15.3,100),(15.8,112),(16.2,106),(16.6,101),(17.0,109),(17.4,98),(18.0,114),
 (18.5,104),(19.0,96),(19.8,106),(10.8,111),(11.4,104),(12.3,100)]
boys_e_pts_more = [
 (9.15,100),(9.35,115),(9.55,97),(9.75,109),(9.95,122),(10.15,93),(10.35,106),(10.55,99),(10.75,117),(10.95,96),
 (11.15,104),(11.35,113),(11.55,89),(11.75,107),(11.95,99),(12.15,115),(12.25,104),(12.35,92),(12.45,109),(12.55,121),
 (12.65,98),(12.75,106),(12.85,86),(12.95,117),(13.05,101),(13.15,94),(13.25,112),(13.35,105),(13.45,92),(13.55,120),
 (13.65,108),(13.75,98),(13.85,116),(13.95,89),(14.05,110),(14.15,101),(14.25,118),(14.35,96),(14.45,105),(14.55,112),
 (14.65,92),(14.75,109),(14.85,120),(14.95,98),(15.05,114),(15.15,93),(15.25,108),(15.35,119),(15.45,102),(15.55,112),
 (15.65,95),(15.75,115),(15.85,105),(15.95,124),(16.05,99),(16.15,108),(16.25,117),(16.35,94),(16.45,112),(16.55,104),
 (16.65,120),(16.75,97),(16.85,107),(16.95,113),(17.05,100),(17.15,89),(17.25,115),(17.35,104),(17.45,92),(17.55,110),
 (17.65,99),(17.85,106),(17.95,115),(18.15,93),(18.35,103),(18.45,110),(18.65,97),(18.85,108),(19.05,100),(19.25,92),
 (19.45,106),(19.65,98),(19.75,89),(19.95,103),(20.15,95),(20.35,108),(20.55,88),(20.75,99),(20.95,104),(21.15,95),
 (21.35,107),(21.55,91),(21.75,103),(21.95,85)]

# ---------------- layout helpers ----------------
W, H = 601, 906
def px(x):
    return x / W
def py(y):
    return 1 - y / H

rows = [
    dict(letter="A", ytitle="P<sub>max</sub> (kW)", yr=[-0.37, 6.41], tv=[0, 2, 4, 6],
         tt=["0.0", "2.0", "4.0", "6.0"], tb=(18, 183), ld=(62, 322), rd=(337.3, 597.7),
         g=(girls_pmax_pts + girls_pmax_pts_more, girls_pmax_hi, girls_pmax_md, girls_pmax_lo),
         b=(boys_pmax_pts + boys_pmax_pts_more, boys_pmax_hi, boys_pmax_md, boys_pmax_lo),
         letter_y=17, title_y=118, age_y=224),
    dict(letter="B", ytitle="P<sub>max</sub>/mass (W/kg)", yr=[16.85, 84.0], tv=[20, 40, 60, 80],
         tt=["20", "40", "60", "80"], tb=(243, 407), ld=(57.3, 320.7), rd=(335, 597.7),
         g=(girls_pm_pts + girls_pm_pts_more, girls_pm_hi, girls_pm_md, girls_pm_lo),
         b=(boys_pm_pts + boys_pm_pts_more, boys_pm_hi, boys_pm_md, boys_pm_lo),
         letter_y=235, title_y=339, age_y=447),
    dict(letter="C", ytitle="F<sub>max</sub>/BW", yr=[1.53, 4.37], tv=[2, 3, 4],
         tt=["2.0", "3.0", "4.0"], tb=(468, 633), ld=(61.7, 322), rd=(337.3, 597.7),
         g=(girls_f_pts + girls_f_pts_more, girls_f_hi, girls_f_md, girls_f_lo),
         b=(boys_f_pts + boys_f_pts_more, boys_f_hi, boys_f_md, boys_f_lo),
         letter_y=460, title_y=563, age_y=673),
    dict(letter="D", ytitle="Efficiency (%)", yr=[51.9, 144.5], tv=[60, 80, 100, 120, 140],
         tt=["60", "80", "100", "120", "140"], tb=(693, 857), ld=(66, 325), rd=(339.3, 597.7),
         g=(girls_e_pts + girls_e_pts_more, girls_e_hi, girls_e_md, girls_e_lo),
         b=(boys_e_pts + boys_e_pts_more, boys_e_hi, boys_e_md, boys_e_lo),
         letter_y=690, title_y=783, age_y=889),
]

FONT = "Liberation Sans, Arial, sans-serif"
PT_COLOR = "#666666"
fig = go.Figure()
layout = dict(width=W, height=H, autosize=False, margin=dict(l=0, r=0, t=0, b=0),
              paper_bgcolor="white", plot_bgcolor="white", showlegend=False,
              font=dict(family=FONT, color="#111111", size=13))
annotations = []

idx = 0
for r in rows:
    for side in ("g", "b"):
        idx += 1
        xa = "x" if idx == 1 else f"x{idx}"
        ya = "y" if idx == 1 else f"y{idx}"
        pts, hi, md, lo = r[side]
        cage = girls_curve_age if side == "g" else boys_curve_age
        fig.add_trace(go.Scatter(x=[p[0] for p in pts], y=[p[1] for p in pts], mode="markers",
                                 marker=dict(size=4.3, color=PT_COLOR, line=dict(width=0)),
                                 xaxis=xa, yaxis=ya, hoverinfo="skip"))
        for curve in (hi, md, lo):
            fig.add_trace(go.Scatter(x=cage, y=curve, mode="lines",
                                     line=dict(color="black", width=1.6, shape="spline", smoothing=0.8),
                                     xaxis=xa, yaxis=ya, hoverinfo="skip"))
        dom = r["ld"] if side == "g" else r["rd"]
        top, bot = r["tb"]
        key_x = "xaxis" if idx == 1 else f"xaxis{idx}"
        key_y = "yaxis" if idx == 1 else f"yaxis{idx}"
        layout[key_x] = dict(domain=[px(dom[0]), px(dom[1])], anchor=ya, range=[8.5, 22.52],
                             tickvals=x_ticks, ticktext=[str(t) for t in x_ticks],
                             ticks="outside", ticklen=5, tickwidth=1, tickcolor="#333333",
                             showline=True, linecolor="#555555", linewidth=1, mirror=True,
                             showgrid=False, zeroline=False, automargin=False,
                             tickfont=dict(size=13.5, family=FONT, color="#111111"))
        ycfg = dict(domain=[py(bot), py(top)], anchor=xa, range=r["yr"],
                    showline=True, linecolor="#555555", linewidth=1, mirror=True,
                    showgrid=False, zeroline=False, automargin=False)
        if side == "g":
            ycfg.update(tickvals=r["tv"], ticktext=r["tt"], ticks="outside", ticklen=5,
                        tickwidth=1, tickcolor="#333333",
                        tickfont=dict(size=13.5, family=FONT, color="#111111"))
        else:
            ycfg.update(showticklabels=False, ticks="")
        layout[key_y] = ycfg
    annotations.append(dict(text=r["letter"], x=px(3), y=py(r["letter_y"]), xref="paper", yref="paper",
                            xanchor="left", yanchor="middle", showarrow=False,
                            font=dict(size=20, family=FONT, color="#111111")))
    annotations.append(dict(text=r["ytitle"], x=px(9), y=py(r["title_y"]), xref="paper", yref="paper",
                            xanchor="center", yanchor="middle", textangle=-90, showarrow=False,
                            font=dict(size=16, family=FONT, color="#111111")))
    annotations.append(dict(text="Age (years)", x=px(311), y=py(r["age_y"]), xref="paper", yref="paper",
                            xanchor="center", yanchor="middle", showarrow=False,
                            font=dict(size=16, family=FONT, color="#111111")))

annotations.append(dict(text="Girls", x=px(192), y=py(8), xref="paper", yref="paper",
                        xanchor="center", yanchor="middle", showarrow=False,
                        font=dict(size=15, family=FONT, color="#111111")))
annotations.append(dict(text="Boys", x=px(467.5), y=py(8), xref="paper", yref="paper",
                        xanchor="center", yanchor="middle", showarrow=False,
                        font=dict(size=15, family=FONT, color="#111111")))
layout["annotations"] = annotations
fig.update_layout(**layout)
fig.write_html("out.html")
